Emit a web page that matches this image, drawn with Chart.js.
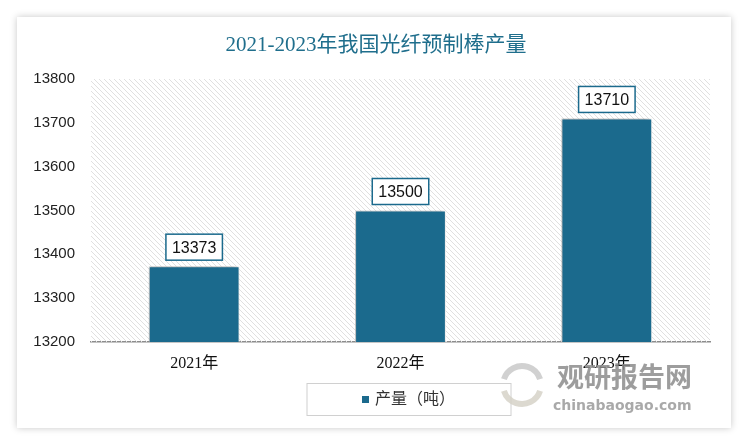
<!DOCTYPE html>
<html>
<head>
<meta charset="utf-8">
<script src="https://cdn.jsdelivr.net/npm/chart.js@4.4.0/dist/chart.umd.min.js"></script>
<style>
    html, body { margin: 0; padding: 0; background: #ffffff; }
    #card {
        position: absolute; left: 17px; top: 17px; width: 714px; height: 411px;
        background: #ffffff; box-shadow: 0 0 7px rgba(0, 0, 0, 0.22);
    }
    #wrap { position: absolute; left: 0; top: 0; width: 750px; height: 445px; }
</style>
</head>
<body>
<div id="card"></div>
<div id="wrap"><canvas id="chart" width="750" height="445"></canvas></div>
<script>
const years = ['2021年', '2022年', '2023年'];
const output = [13373, 13500, 13710];
const yTicks = [13200, 13300, 13400, 13500, 13600, 13700, 13800];
const seriesName = '产量（吨）';
const chartTitle = '2021-2023年我国光纤预制棒产量';

const BAR_COLOR = '#1b6a8d';
const SERIF = '"Liberation Serif", "DejaVu Serif", "Noto Sans CJK SC", serif';
const SANS = '"Liberation Sans", "Noto Sans CJK SC", sans-serif';

// diagonal hatch used behind the plot
function makeHatch(ctx) {
    const c = document.createElement('canvas');
    c.width = 5; c.height = 5;
    const p = c.getContext('2d');
    p.strokeStyle = '#e0e0e0';
    p.lineWidth = 1;
    p.beginPath();
    p.moveTo(0, 0); p.lineTo(5, 5);
    p.moveTo(-1, 4); p.lineTo(1, 6);
    p.moveTo(4, -1); p.lineTo(6, 1);
    p.stroke();
    return ctx.createPattern(c, 'repeat');
}

const hatchPlugin = {
    id: 'hatch',
    beforeDatasetsDraw(chart) {
        const { ctx, chartArea: a } = chart;
        ctx.save();
        ctx.fillStyle = makeHatch(ctx);
        ctx.fillRect(a.left, a.top, a.right - a.left, a.bottom - a.top);
        ctx.restore();
    }
};

const titlePlugin = {
    id: 'cardTitle',
    afterDraw(chart) {
        const ctx = chart.ctx;
        ctx.save();
        ctx.font = '21px ' + SERIF;
        ctx.fillStyle = '#1f6e8c';
        ctx.textAlign = 'center';
        ctx.textBaseline = 'middle';
        ctx.fillText(chartTitle, 376, 45);
        ctx.restore();
    }
};

const shadowPlugin = {
    id: 'barShadow',
    beforeDatasetDraw(chart) {
        const ctx = chart.ctx;
        ctx.save();
        ctx.shadowColor = 'rgba(0, 0, 0, 0.35)';
        ctx.shadowBlur = 5;
        ctx.shadowOffsetX = -2;
        ctx.shadowOffsetY = -1;
    },
    afterDatasetDraw(chart) {
        chart.ctx.restore();
    }
};

const labelPlugin = {
    id: 'valueBoxes',
    afterDatasetsDraw(chart) {
        const ctx = chart.ctx;
        const meta = chart.getDatasetMeta(0);
        ctx.save();
        ctx.font = '16px ' + SANS;
        ctx.textAlign = 'center';
        ctx.textBaseline = 'middle';
        meta.data.forEach((bar, i) => {
            const txt = String(chart.data.datasets[0].data[i]);
            const w = ctx.measureText(txt).width + 12;
            const h = 26;
            const x = bar.x - w / 2;
            const y = bar.y - 6 - h;
            ctx.fillStyle = '#ffffff';
            ctx.fillRect(x, y, w, h);
            ctx.strokeStyle = BAR_COLOR;
            ctx.lineWidth = 1.5;
            ctx.strokeRect(x, y, w, h);
            ctx.fillStyle = '#111111';
            ctx.fillText(txt, bar.x, y + h / 2 + 1);
        });
        ctx.restore();
    }
};

const legendPlugin = {
    id: 'boxLegend',
    afterDraw(chart) {
        const { ctx, chartArea: a } = chart;
        const cx = (a.left + a.right) / 2 + 8;
        const bw = 204, bh = 32, top = 383;
        ctx.save();
        ctx.strokeStyle = '#d0d0d0';
        ctx.lineWidth = 1;
        ctx.strokeRect(cx - bw / 2 + 0.5, top + 0.5, bw, bh);
        ctx.font = '16px ' + SERIF;
        const tw = ctx.measureText(seriesName).width;
        const sx = cx - (tw + 13) / 2;
        ctx.fillStyle = BAR_COLOR;
        ctx.fillRect(sx, top + 13, 7, 7);
        ctx.fillStyle = '#333333';
        ctx.textBaseline = 'middle';
        ctx.fillText(seriesName, sx + 13, top + bh / 2 + 1);
        ctx.restore();
    }
};

const watermarkPlugin = {
    id: 'watermark',
    afterDraw(chart) {
        const ctx = chart.ctx;
        ctx.save();
        ctx.globalAlpha = 0.85;
        ctx.strokeStyle = '#c9c9c9';
        ctx.lineWidth = 6;
        ctx.beginPath();
        ctx.arc(522, 385, 19, Math.PI * 1.1, Math.PI * 1.9);
        ctx.stroke();
        ctx.strokeStyle = '#d6d2c8';
        ctx.beginPath();
        ctx.arc(522, 385, 19, Math.PI * 0.1, Math.PI * 0.9);
        ctx.stroke();
        ctx.fillStyle = '#8c8c8c';
        ctx.font = 'bold 27px "Noto Sans CJK SC", sans-serif';
        ctx.textBaseline = 'middle';
        ctx.fillText('观研报告网', 557, 377);
        ctx.font = 'bold 14px "DejaVu Sans", sans-serif';
        ctx.fillStyle = '#9a9a9a';
        ctx.fillText('chinabaogao.com', 553, 406);
        ctx.restore();
    }
};

new Chart(document.getElementById('chart'), {
    type: 'bar',
    data: {
        labels: years,
        datasets: [{
            label: seriesName,
            data: output,
            backgroundColor: BAR_COLOR,
            borderColor: 'rgba(255, 255, 255, 0.85)',
            borderWidth: 1,
            barPercentage: 0.88,
            categoryPercentage: 0.5
        }]
    },
    options: {
        responsive: false,
        animation: false,
        layout: { padding: { top: 79, right: 40, bottom: 0, left: 0 } },
        plugins: {
            legend: { display: false },
            tooltip: { enabled: false },
            title: { display: false }
        },
        scales: {
            x: {
                grid: { display: false, drawTicks: false },
                border: { display: true, color: '#8c8c8c', width: 1.5 },
                ticks: { color: '#111111', padding: 12, font: { size: 16, family: SERIF } },
                afterFit(scale) { scale.height = 103; }
            },
            y: {
                min: yTicks[0],
                max: yTicks[yTicks.length - 1],
                afterBuildTicks(scale) { scale.ticks = yTicks.map(v => ({ value: v })); },
                grid: { display: false, drawTicks: false },
                border: { display: false },
                ticks: {
                    color: '#222222', padding: 16, font: { size: 15, family: SANS },
                    callback: v => String(v)
                },
                afterFit(scale) { scale.width = 91; }
            }
        }
    },
    plugins: [hatchPlugin, shadowPlugin, labelPlugin, legendPlugin, watermarkPlugin, titlePlugin]
});
</script>
</body>
</html>
